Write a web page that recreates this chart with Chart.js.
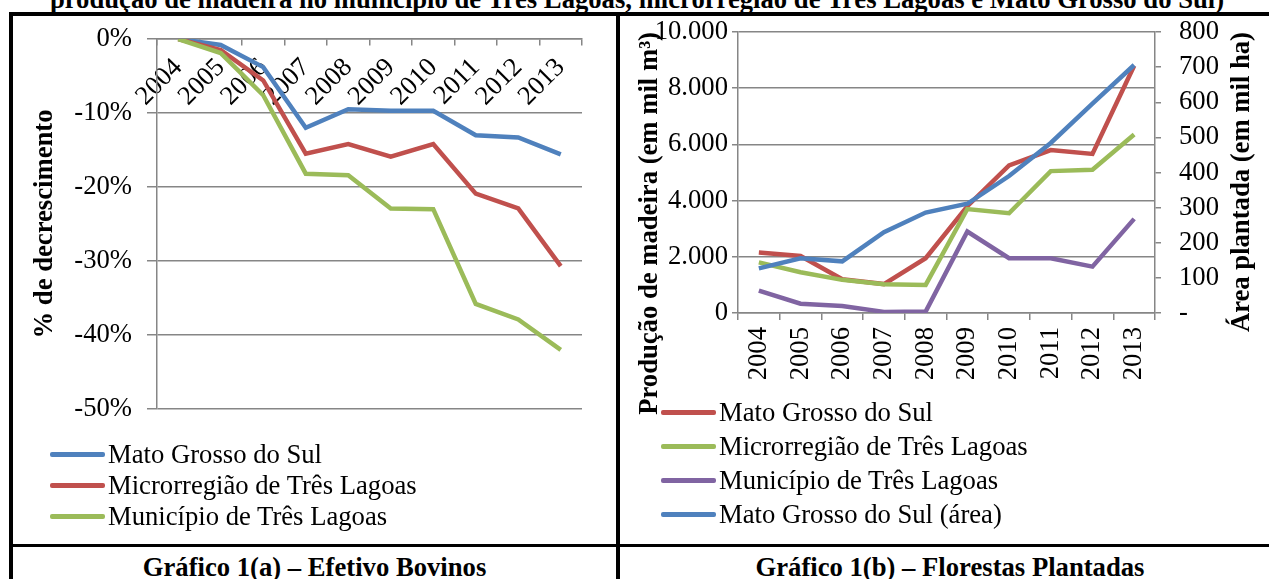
<!DOCTYPE html>
<html>
<head>
<meta charset="utf-8">
<script src="https://cdn.jsdelivr.net/npm/chart.js@4.4.1/dist/chart.umd.min.js"></script>
<style>
  body { margin: 0; background: #fff; width: 1269px; height: 579px; overflow: hidden; position: relative;
         font-family: 'Liberation Serif', 'Times New Roman', serif; color: #000; }
  .titulo { position: absolute; left: 0; width: 1274px; top: -14px; text-align: center; font-weight: bold;
            font-size: 26.67px; line-height: 26px; white-space: nowrap; }
  .borda { position: absolute; background: #000; }
  canvas { position: absolute; }
  .legenda { position: absolute; font-size: 26.67px; z-index: 2; }
  .legenda div { display: flex; align-items: center; white-space: nowrap; }
  .legenda .amostra { display: inline-block; width: 55px; height: 5px; border-radius: 2px; margin-right: 3px; }
  .rodape { position: absolute; top: 554px; font-weight: bold; font-size: 26.67px; line-height: 26px;
            text-align: center; white-space: nowrap; }
</style>
</head>
<body>
<div class="titulo">produção de madeira no município de Três Lagoas, microrregião de Três Lagoas e Mato Grosso do Sul)</div>

<div class="borda" style="left:9px; top:12px; width:1260px; height:4px"></div>
<div class="borda" style="left:9px; top:12px; width:4px; height:567px"></div>
<div class="borda" style="left:616px; top:12px; width:4px; height:567px"></div>
<div class="borda" style="left:9px; top:544px; width:1260px; height:3px"></div>

<canvas id="graficoBovinos" width="603" height="536" style="left:13px; top:8px"></canvas>
<canvas id="graficoFlorestas" width="649" height="546" style="left:620px; top:-2px"></canvas>

<div class="legenda" id="legendaBovinos" style="left:50px; top:439px"></div>
<div class="legenda" id="legendaFlorestas" style="left:661px; top:395px"></div>

<div class="rodape" style="left:13px; width:603px">Gráfico 1(a) – Efetivo Bovinos</div>
<div class="rodape" style="left:620px; width:660px">Gráfico 1(b) – Florestas Plantadas</div>

<script>
const anos = ['2004', '2005', '2006', '2007', '2008', '2009', '2010', '2011', '2012', '2013']

// Gráfico 1(a): variação do efetivo bovino em relação a 2004 (%)
const bovinosMS = [0, -0.8, -3.8, -12.0, -9.5, -9.7, -9.7, -13.0, -13.3, -15.6]
const bovinosMicro = [0, -1.5, -5.6, -15.5, -14.2, -15.9, -14.2, -20.9, -22.9, -30.7]
const bovinosMun = [0, -1.9, -7.6, -18.2, -18.4, -22.9, -23.0, -35.8, -37.9, -42.0]
const ticksPercentual = [-50, -40, -30, -20, -10, 0]
const rotulosPercentual = ['-50%', '-40%', '-30%', '-20%', '-10%', '0%']

// Gráfico 1(b): produção de madeira (mil m³) e área plantada (mil ha)
const madeiraMS = [2150, 2030, 1200, 1030, 1950, 3800, 5250, 5800, 5660, 8800]
const madeiraMicro = [1800, 1450, 1180, 1020, 1000, 3700, 3550, 5050, 5100, 6350]
const madeiraMun = [800, 330, 250, 40, 50, 2900, 1950, 1950, 1650, 3350]
const areaMS = [127, 156, 147, 230, 286, 311, 390, 484, 596, 706]
const ticksMadeira = [0, 2000, 4000, 6000, 8000, 10000]
const rotulosMadeira = ['0', '2.000', '4.000', '6.000', '8.000', '10.000']
const ticksArea = [0, 100, 200, 300, 400, 500, 600, 700, 800]
const rotulosArea = ['-', '100', '200', '300', '400', '500', '600', '700', '800']

const AZUL = '#4F81BD'
const VERMELHO = '#C0504D'
const VERDE = '#9BBB59'
const ROXO = '#8064A2'
const CINZA = '#868686'
const FONTE = "'Liberation Serif', 'Times New Roman', serif"
const TAMANHO = 26.67

Chart.defaults.font.family = FONTE
Chart.defaults.font.size = TAMANHO
Chart.defaults.color = '#000'

function serie(rotulo, dados, cor, ordem, eixo) {
  return {
    label: rotulo,
    data: dados,
    borderColor: cor,
    backgroundColor: cor,
    borderWidth: 4.5,
    pointRadius: 0,
    tension: 0,
    order: ordem,
    yAxisID: eixo || 'y'
  }
}

function fixarTicks(valores) {
  return scale => { scale.ticks = valores.map(v => ({ value: v })) }
}

/**
 * legenda em HTML, uma linha por série, na ordem dos datasets
 */
function montarLegenda(chart, alvo, alturaLinha) {
  const itens = chart.options.plugins.legend.labels.generateLabels(chart)
  itens.sort((a, b) => a.datasetIndex - b.datasetIndex)
  itens.forEach(item => {
    const linha = document.createElement('div')
    linha.style.height = alturaLinha + 'px'
    const amostra = document.createElement('span')
    amostra.className = 'amostra'
    amostra.style.background = item.strokeStyle
    const texto = document.createElement('span')
    texto.textContent = item.text
    linha.appendChild(amostra)
    linha.appendChild(texto)
    alvo.appendChild(linha)
  })
}

// título do eixo direito lido de baixo para cima, como no original
const tituloDireito = {
  id: 'tituloDireito',
  afterDraw(chart, args, opts) {
    const escala = chart.scales.y1
    const ctx = chart.ctx
    ctx.save()
    ctx.font = 'bold ' + TAMANHO + 'px ' + FONTE
    ctx.fillStyle = '#000'
    ctx.textAlign = 'right'
    ctx.textBaseline = 'middle'
    ctx.translate(escala.right - 27, chart.chartArea.top)
    ctx.rotate(-Math.PI / 2)
    ctx.fillText(opts.texto, 0, 0)
    ctx.restore()
  }
}

const graficoBovinos = new Chart(document.getElementById('graficoBovinos'), {
  type: 'line',
  data: {
    labels: anos,
    datasets: [
      serie('Mato Grosso do Sul', bovinosMS, AZUL, 3),
      serie('Microrregião de Três Lagoas', bovinosMicro, VERMELHO, 2),
      serie('Município de Três Lagoas', bovinosMun, VERDE, 1)
    ]
  },
  options: {
    responsive: false,
    animation: false,
    // o topo da área do gráfico vem do padding dos rótulos do eixo y (31px)
    layout: { padding: { left: 0, top: 0, right: 34, bottom: 135 } },
    plugins: { legend: { display: false }, tooltip: { enabled: false } },
    scales: {
      x: {
        position: { y: 0 },
        offset: true,
        grid: { offset: true, drawOnChartArea: false, tickLength: 6, color: CINZA, lineWidth: 1.5 },
        border: { color: CINZA, width: 1.5 },
        ticks: { minRotation: 45, maxRotation: 45, autoSkip: false, padding: 7 }
      },
      y: {
        min: -50,
        max: 0,
        afterBuildTicks: fixarTicks(ticksPercentual),
        afterFit: scale => { scale.width = 144 },
        ticks: { callback: v => rotulosPercentual[ticksPercentual.indexOf(v)], padding: 15, autoSkip: false },
        grid: { color: CINZA, lineWidth: 1.5, tickLength: 10 },
        border: { color: CINZA, width: 1.5 },
        title: {
          display: true,
          text: '% de decrescimento',
          font: { size: TAMANHO, weight: 'bold' },
          padding: { top: 16, bottom: 0 }
        }
      }
    }
  }
})

const graficoFlorestas = new Chart(document.getElementById('graficoFlorestas'), {
  type: 'line',
  data: {
    labels: anos,
    datasets: [
      serie('Mato Grosso do Sul', madeiraMS, VERMELHO, 4),
      serie('Microrregião de Três Lagoas', madeiraMicro, VERDE, 3),
      serie('Município de Três Lagoas', madeiraMun, ROXO, 2),
      serie('Mato Grosso do Sul (área)', areaMS, AZUL, 1, 'y1')
    ]
  },
  plugins: [tituloDireito],
  options: {
    responsive: false,
    animation: false,
    // o topo da área do gráfico vem do padding dos rótulos do eixo y1 (34px)
    layout: { padding: { left: 0, top: 0, right: 0, bottom: 0 } },
    plugins: {
      legend: { display: false },
      tooltip: { enabled: false },
      tituloDireito: { texto: 'Área plantada (em mil ha)' }
    },
    scales: {
      x: {
        offset: true,
        grid: { offset: true, drawOnChartArea: false, tickLength: 7, color: CINZA, lineWidth: 1.5 },
        border: { color: CINZA, width: 1.5 },
        ticks: { minRotation: 90, maxRotation: 90, autoSkip: false, padding: 7 },
        afterFit: scale => { scale.height = 231 }
      },
      y: {
        position: 'left',
        min: 0,
        max: 10000,
        afterBuildTicks: fixarTicks(ticksMadeira),
        afterFit: scale => { scale.width = 118 },
        ticks: { callback: v => rotulosMadeira[ticksMadeira.indexOf(v)], padding: 4, autoSkip: false },
        grid: { color: CINZA, lineWidth: 1.5, tickLength: 6 },
        border: { color: CINZA, width: 1.5 },
        title: {
          display: true,
          text: 'Produção de madeira (em mil m³)',
          align: 'end',
          font: { size: TAMANHO, weight: 'bold' },
          padding: { top: 14, bottom: 0 }
        }
      },
      y1: {
        position: 'right',
        min: 0,
        max: 800,
        afterBuildTicks: fixarTicks(ticksArea),
        afterFit: scale => { scale.width = 114 },
        ticks: { callback: v => rotulosArea[ticksArea.indexOf(v)], padding: 18, autoSkip: false },
        grid: { drawOnChartArea: false, color: CINZA, lineWidth: 1.5, tickLength: 6 },
        border: { color: CINZA, width: 1.5 }
      }
    }
  }
})

montarLegenda(graficoBovinos, document.getElementById('legendaBovinos'), 31)
montarLegenda(graficoFlorestas, document.getElementById('legendaFlorestas'), 34)
</script>
</body>
</html>
